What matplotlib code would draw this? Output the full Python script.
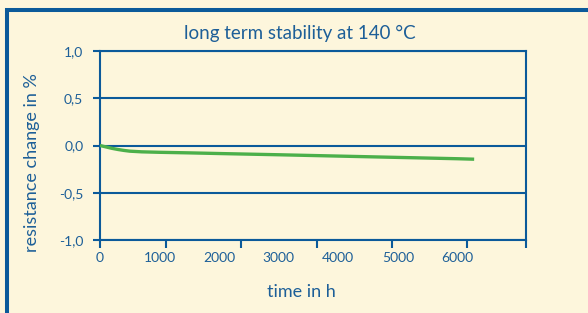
import matplotlib.pyplot as plt
from matplotlib.patches import Rectangle

# values
hours = [0, 100, 200, 300, 400, 500, 700, 1000, 1500, 2000, 3000, 4000, 5000, 6000, 6280]
change = [0.0, -0.015, -0.03, -0.042, -0.052, -0.06, -0.067, -0.072, -0.078,
          -0.085, -0.098, -0.112, -0.126, -0.14, -0.145]

x_labels = [0, 1000, 2000, 3000, 4000, 5000, 6000]
x_marks = [0, 1105, 2360, 3635, 4905, 6160, 7150]
y_ticks = [-1.0, -0.5, 0.0, 0.5, 1.0]
y_labels = ['-1,0', '-0,5', '0,0', '0,5', '1,0']

blue = '#0b5a9a'
text_blue = '#1d5f98'
bg = '#fdf6dc'
green = '#4cb04a'

plt.rcParams['font.family'] = ['Lato', 'DejaVu Sans']

W, H = 588, 313
fig = plt.figure(figsize=(W / 100, H / 100), dpi=100, facecolor=bg)
ax = fig.add_axes([100 / W, 1 - 240 / H, 426 / W, 189 / H])
ax.set_facecolor(bg)

# outer frame (top and left edges visible)
fig.add_artist(Rectangle((7 / W, -0.2), 2, 1.2 - 9.5 / H, transform=fig.transFigure,
                         fill=False, edgecolor=blue, linewidth=2.9))

ax.plot(hours, change, color=green, linewidth=2.4, solid_capstyle='butt', zorder=3)

ax.set_xlim(0, 7150)
ax.set_ylim(-1.0, 1.0)

ax.set_yticks(y_ticks)
ax.set_yticklabels(y_labels)
ax.yaxis.grid(True, color=blue, linewidth=1.5)
ax.tick_params(axis='y', direction='out', length=5, width=1.5, color=blue,
               labelcolor=text_blue, labelsize=10, pad=7)

ax.xaxis.remove_overlapping_locs = False
ax.set_xticks(x_marks)
ax.set_xticklabels([''] * len(x_marks))
ax.set_xticks(x_labels, minor=True)
ax.set_xticklabels([str(v) for v in x_labels], minor=True)
ax.tick_params(axis='x', which='major', direction='out', length=6, width=1.5, color=blue)
ax.tick_params(axis='x', which='minor', length=0, labelcolor=text_blue, labelsize=10, pad=9)

for s in ax.spines.values():
    s.set_color(blue)
    s.set_linewidth(1.5)
ax.set_axisbelow(True)

ax.set_title('long term stability at 140 °C', color=text_blue, fontsize=13.5, pad=9,
             x=(300 - 100) / 426)
ax.set_xlabel('time in h', color=text_blue, fontsize=13, labelpad=14)
ax.xaxis.label.set_x((301 - 100) / 426)
ax.set_ylabel('resistance change in %', color=text_blue, fontsize=13)
ax.yaxis.set_label_coords(-60 / 426, 0.41)

fig.savefig('out.png', dpi=100, facecolor=bg)
